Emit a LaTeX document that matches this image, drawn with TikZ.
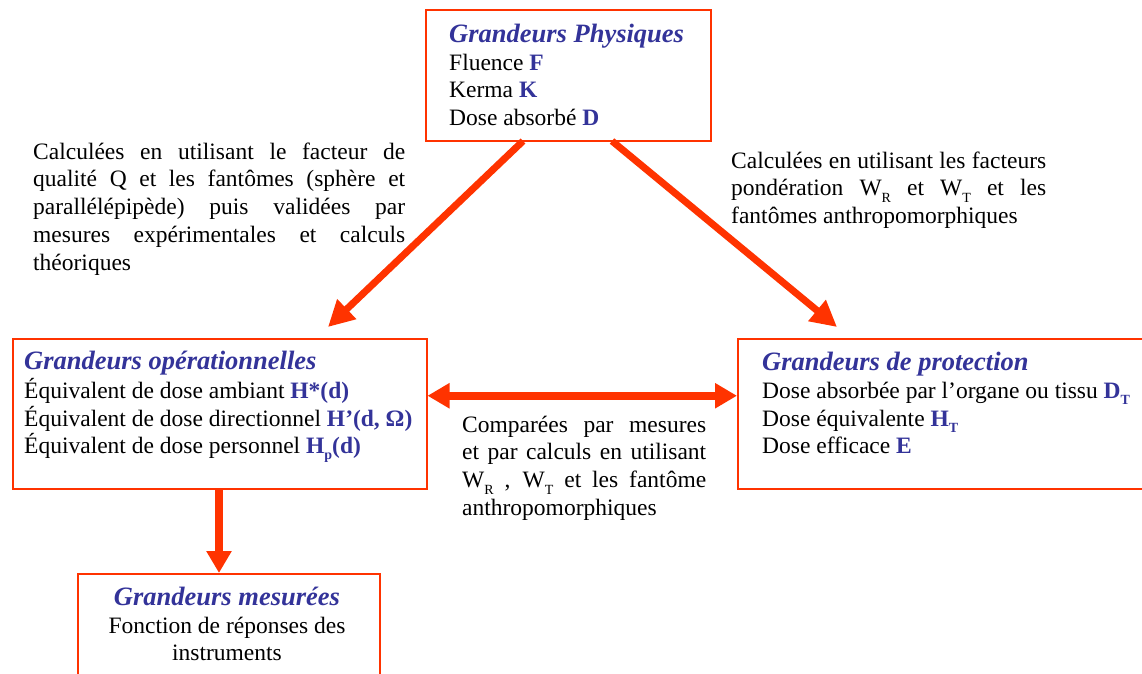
\documentclass[tikz,border=0pt]{standalone}
\usepackage{fontspec}
\setmainfont{Liberation Serif}
\usetikzlibrary{arrows.meta}
\definecolor{ored}{RGB}{255,51,0}
\definecolor{tblue}{RGB}{51,51,153}
\newcommand\bq[1]{\textbf{\color{tblue}#1}}
\newcommand\ttl[1]{{\fontsize{26.5}{27.8}\selectfont\bfseries\itshape\color{tblue}#1}}
\newcommand\subx[1]{\raisebox{-0.28em}{\fontsize{14}{14}\selectfont #1}}
\newcommand\nohyph{\hyphenpenalty=10000 \exhyphenpenalty=10000 \tolerance=10000 \relax}
\begin{document}
\begin{tikzpicture}[x=1pt,y=-1pt,
  box/.style={draw=ored, line width=1.5pt, anchor=north west, inner sep=0pt},
  txt/.style={anchor=base west, inner sep=0pt, font=\fontsize{23.5}{27.8}\selectfont},
  ctxt/.style={txt, anchor=base},
  para/.style={anchor=north west, inner sep=0pt, align=justify,
    font=\fontsize{23.5}{27.8}\selectfont},
  diagarrow/.style={draw=ored, line width=7pt, -{Triangle[length=26pt,width=26pt]}},
  straightarrow/.style={draw=ored, line width=8pt, -{Triangle[length=22pt,width=24pt]}},
  dblarrow/.style={draw=ored, line width=8pt, {Triangle[length=22pt,width=24pt]}-{Triangle[length=22pt,width=24pt]}},
]
\useasboundingbox (0,0) rectangle (1142,673);
\clip (0,0) rectangle (1142,673);

% boxes
\node[box, minimum width=285pt, minimum height=131pt] (phys) at (425,9) {};
\node[box, minimum width=414pt, minimum height=150pt] (oper) at (12,338) {};
\node[box, minimum width=430pt, minimum height=150pt] (prot) at (737,338) {};
\node[box, minimum width=302pt, minimum height=130pt] (mes) at (77,573) {};

% box texts
\node[txt] (p0) at (449,42) {\ttl{Grandeurs Physiques}};
\node[txt] (p1) at (449,70) {Fluence \bq{F}};
\node[txt] (p2) at (449,97) {Kerma \bq{K}};
\node[txt] (p3) at (449,125) {Dose absorbé \bq{D}};

\node[txt] (o0) at (24,369) {\ttl{Grandeurs opérationnelles}};
\node[txt] (o1) at (24,398) {Équivalent de dose ambiant \bq{H*(d)}};
\node[txt] (o2) at (24,426) {Équivalent de dose directionnel \bq{H’(d, Ω)}};
\node[txt] (o3) at (24,453) {Équivalent de dose personnel \bq{H\subx{p}(d)}};

\node[txt] (r0) at (762,370) {\ttl{Grandeurs de protection}};
\node[txt] (r1) at (762,398) {Dose absorbée par l’organe ou tissu \bq{D\subx{T}}};
\node[txt] (r2) at (762,426) {Dose équivalente \bq{H\subx{T}}};
\node[txt] (r3) at (762,453) {Dose efficace \bq{E}};

\node[ctxt] (m0) at (227,605) {\ttl{Grandeurs mesurées}};
\node[ctxt] (m1) at (227,633) {Fonction de réponses des};
\node[ctxt] (m2) at (227,660) {instruments};

% free texts
\node[para, text width=372pt] (tl) at (33,139.5) {\nohyph\strut Calculées en utilisant le facteur de\linebreak
 qualité Q et les fantômes (sphère et\linebreak
 parallélépipède) puis validées par\linebreak
 mesures expérimentales et calculs\linebreak
 théoriques};
\node[para, text width=315pt] (tr) at (731,148.5) {\nohyph\strut Calculées en utilisant les facteurs\linebreak
 pondération W\subx{R} et W\subx{T} et les\linebreak
 fantômes anthropomorphiques};
\node[para, text width=244pt] (tm) at (462,412.5) {\nohyph\strut Comparées par mesures\linebreak
 et par calculs en utilisant\linebreak
 W\subx{R} , W\subx{T} et les fantôme\linebreak
 anthropomorphiques};

% connector end points
\coordinate (ls) at (523,141);
\coordinate (le) at (328,327);
\coordinate (rs) at (612,141);
\coordinate (re) at (837,327);
\coordinate (vs) at (219,488);
\coordinate (ve) at (219,573);

% arrows
\draw[diagarrow] (ls) -- (le);
\draw[diagarrow] (rs) -- (re);
\draw[dblarrow] ([yshift=18pt]oper.east) -- ([yshift=18pt]prot.west);
\draw[straightarrow] (vs) -- (ve);
\end{tikzpicture}
\end{document}
